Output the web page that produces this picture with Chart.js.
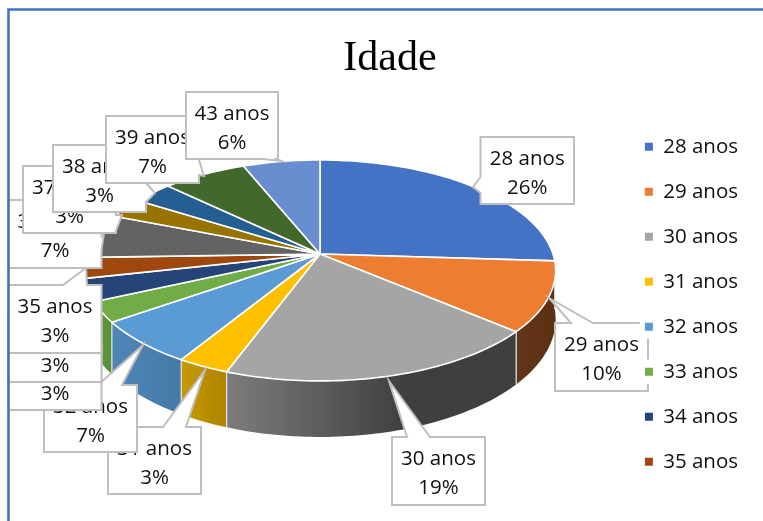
<!DOCTYPE html>
<html>
<head>
<meta charset="utf-8">
<style>html,body{margin:0;padding:0;background:#fff}#w{width:763px;height:521px;position:relative}</style>
<script src="https://cdn.jsdelivr.net/npm/chart.js@4"></script>
</head>
<body>
<div id="w"><canvas id="c" width="763" height="521"></canvas></div>
<script>
const categories = ['28 anos','29 anos','30 anos','31 anos','32 anos','33 anos','34 anos','35 anos','36 anos','37 anos','38 anos','39 anos','43 anos'];
const shares = [26,10.25,19.35,3.1,6.5,3,3.3,3,6.5,3,3.2,6.7,6.1];
const sliceColors = ['#4472c4','#ed7d31','#a5a5a5','#ffc000','#5b9bd5','#70ad47','#264478','#9e480e','#636363','#997300','#255e91','#43682b','#698ed0'];
const wallFrom = ['#2f5597','#63351a','#7c7c7c','#c89a00','#4f86b8','#5f9a3c','#1c3358','#74350a','#494949','#715500','#1b4569','#324d20','#4e6a9a'];
const wallTo   = ['#2f5597','#5c3013','#3f3f3f','#ad8300','#447aa5','#5a9037','#1c3358','#74350a','#494949','#715500','#1b4569','#324d20','#4e6a9a'];

// label boxes: x, y, w, h, callout edge, base a, base b, tip x, tip y
const labelLayout = [
 [480.5,137,93.5,67,'left',177,193,473,187],
 [555,323,93,68,'top',571,593,549,298],
 [392,437,93,68,'top',407,430,389,381],
 [108,427,93,67,'top',163,186,205,370],
 [44,385,93,67,'top',98,122,143,345],
 [8.5,343,93,67,null],
 [8.5,315,93,67,null],
 [8.5,285,93,68,'top',63,87,86,268],
 [8.5,200,93,68,'right',236,250,104,233],
 [23,166,93,67,'right',215,231,122,215],
 [53,145,93,67,'right',183,202,155,193],
 [106,116,93,67,'right',160,175,204,176],
 [186,92,92,67,'bottom',263,277,281,161]
];

const CX=320, CY=254, RX=233, RY=108, K=0.149, DEPTH=47.7;
function project(th, drop){
  const u=Math.cos(th), v=Math.sin(th), w=1-K*v;
  return [CX+RX*u/w, CY+RY*v/w+(drop?DEPTH/w:0)];
}
function rim(a,b,drop){
  const n=Math.max(2,Math.ceil((b-a)/0.02)), p=[];
  for(let i=0;i<=n;i++) p.push(project(a+(b-a)*i/n,drop));
  return p;
}
function poly(ctx,pts){
  ctx.beginPath();
  pts.forEach((q,i)=>i?ctx.lineTo(q[0],q[1]):ctx.moveTo(q[0],q[1]));
  ctx.closePath();
}
function boxPath(L){
  const [x,y,w,h,edge,a,b,tx,ty]=L, r=x+w, bt=y+h, t=[tx,ty];
  const p=[[x,y]];
  if(edge==='top') p.push([a,y],t,[b,y]);
  p.push([r,y]);
  if(edge==='right') p.push([r,a],t,[r,b]);
  p.push([r,bt]);
  if(edge==='bottom') p.push([b,bt],t,[a,bt]);
  p.push([x,bt]);
  if(edge==='left') p.push([x,b],t,[x,a]);
  return p;
}
const pie3d = {
  id:'pie3d',
  beforeDatasetDraw(chart){
    const ctx=chart.ctx, arcs=chart.getDatasetMeta(0).data;
    ctx.save();
    arcs.forEach((arc,i)=>{
      const a=arc.startAngle,b=arc.endAngle;
      const top=rim(a,b,false), bot=rim(a,b,true);
      const xs=top.map(q=>q[0]);
      const g=ctx.createLinearGradient(Math.min(...xs),0,Math.max(...xs),0);
      g.addColorStop(0,wallFrom[i]);
      g.addColorStop(i===2?0.62:1,wallTo[i]);
      g.addColorStop(1,wallTo[i]);
      poly(ctx,top.concat(bot.slice().reverse()));
      ctx.fillStyle=g; ctx.fill();
      ctx.strokeStyle='#e8e8e8'; ctx.lineWidth=1.2;
      ctx.beginPath();
      ctx.moveTo(top[0][0],top[0][1]); ctx.lineTo(bot[0][0],bot[0][1]);
      ctx.stroke();
    });
    arcs.forEach((arc,i)=>{
      poly(ctx,[[CX,CY]].concat(rim(arc.startAngle,arc.endAngle,false)));
      ctx.fillStyle=sliceColors[i]; ctx.fill();
      ctx.strokeStyle='#ffffff'; ctx.lineWidth=1.6; ctx.lineJoin='round'; ctx.stroke();
    });
    ctx.restore();
    return false;
  },
  afterDatasetsDraw(chart){
    const ctx=chart.ctx;
    ctx.save();
    ctx.font='20.5px "Open Sans"'; ctx.textAlign='center'; ctx.textBaseline='middle';
    labelLayout.forEach((L,i)=>{
      poly(ctx,boxPath(L));
      ctx.fillStyle='#fff'; ctx.fill();
      ctx.strokeStyle='#bfbfbf'; ctx.lineWidth=2; ctx.lineJoin='miter'; ctx.stroke();
      ctx.fillStyle='#111';
      const mx=L[0]+L[2]/2;
      ctx.fillText(categories[i],mx,L[1]+22);
      ctx.fillText(Math.round(shares[i])+'%',mx,L[1]+51);
    });
    // legend entries sit above the data labels
    ctx.fillStyle='#fff';
    chart.legend.legendHitBoxes.forEach(h=>ctx.fillRect(h.left-5,h.top-2,h.width+10,h.height+4));
    chart.legend.draw();
    // frame
    ctx.strokeStyle='#4472c4'; ctx.lineWidth=2.6;
    ctx.beginPath(); ctx.moveTo(8.5,521); ctx.lineTo(8.5,9.5); ctx.lineTo(763,9.5); ctx.stroke();
    ctx.restore();
  }
};
new Chart(document.getElementById('c'),{
  type:'pie',
  data:{labels:categories,datasets:[{data:shares,backgroundColor:sliceColors,borderWidth:0}]},
  plugins:[pie3d],
  options:{
    responsive:false,animation:false,
    layout:{padding:{left:32,top:34,right:15,bottom:0}},
    plugins:{
      tooltip:{enabled:false},
      title:{display:true,text:'Idade',color:'#000',font:{family:'"Liberation Serif"',size:42,weight:'normal'},padding:{top:0,bottom:3}},
      legend:{position:'right',fullSize:false,labels:{
        boxWidth:8,boxHeight:8,padding:24.5,color:'#111',font:{family:'"Open Sans"',size:20.5},
        filter:(item)=>item.index<8
      }}
    }
  }
});
</script>
</body>
</html>
